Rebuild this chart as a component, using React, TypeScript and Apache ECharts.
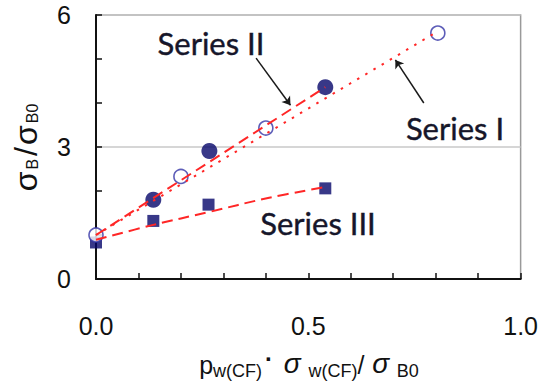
import React, { useEffect, useRef } from "react";
import * as echarts from "echarts";

// Measured points
const seriesIPoints: number[][] = [[0, 1.0], [0.2, 2.33], [0.4, 3.43], [0.805, 5.59]];
const seriesIIPoints: number[][] = [[0.135, 1.8], [0.267, 2.91], [0.54, 4.36]];
const seriesIIIPoints: number[][] = [[0, 0.83], [0.135, 1.32], [0.265, 1.69], [0.54, 2.06]];

// Trend lines as drawn in the picture
const seriesIFit: number[][] = [[0, 1.0], [0.8, 5.6]];
const seriesIIFit: number[][] = [[0, 1.0], [0.54, 4.36]];
const seriesIIICurve: number[][] = [[0, 0.89], [0.135, 1.23], [0.265, 1.52], [0.405, 1.84], [0.54, 2.09]];

// Annotation arrows (data coordinates: from -> to)
const arrowSeriesII: number[][] = [[0.377, 5.02], [0.458, 3.95]];
const arrowSeriesI: number[][] = [[0.772, 4.0], [0.705, 4.98]];

const xLabelValues = [0, 0.5, 1.0];
const xTickLabels = ["0.0", "0.5", "1.0"];
const yLabelValues = [0, 3, 6];
const yTickLabels = ["0", "3", "6"];

const annotationTexts = ["Series II", "Series I", "Series III"];

const RED = "#ff2626";
const NAVY = "#06066a";

function pick(values: number[], labels: string[], v: number): string {
  for (let i = 0; i < values.length; i++) {
    if (Math.abs(values[i] - v) < 1e-6) return labels[i];
  }
  return "";
}

export default function App() {
  const ref = useRef<HTMLDivElement>(null);
  useEffect(() => {
    if (!ref.current) return;
    const chart = echarts.init(ref.current, undefined, { renderer: "svg" });
    const tickFont = "Liberation Sans, Arial, sans-serif";
    const noteFont = "Lato, sans-serif";
    chart.setOption({
      animation: false,
      backgroundColor: "#ffffff",
      grid: {
        left: 96,
        right: 15,
        top: 15,
        bottom: 107,
        show: true,
        borderColor: "#9a9a9a",
        borderWidth: 1.5,
        backgroundColor: "transparent",
      },
      xAxis: {
        type: "value",
        min: 0,
        max: 1,
        interval: 0.1,
        axisLine: { show: true, lineStyle: { color: "#111", width: 2 } },
        axisTick: { show: true, inside: true, length: 6, lineStyle: { color: "#111", width: 1.5 } },
        splitLine: { show: false },
        axisLabel: {
          margin: 34,
          fontSize: 25,
          color: "#111",
          fontFamily: tickFont,
          formatter: (v: number) => pick(xLabelValues, xTickLabels, v),
        },
      },
      yAxis: [
        {
          type: "value",
          min: 0,
          max: 6,
          interval: 1,
          axisLine: { show: true, lineStyle: { color: "#111", width: 2 } },
          axisTick: { show: true, inside: true, length: 6, lineStyle: { color: "#111", width: 1.5 } },
          splitLine: { show: false },
          axisLabel: {
            margin: 25,
            fontSize: 25,
            color: "#111",
            fontFamily: tickFont,
            padding: [8, 0, 0, 0],
            formatter: (v: number) => pick(yLabelValues, yTickLabels, v),
          },
        },
        {
          type: "value",
          min: 0,
          max: 6,
          interval: 3,
          position: "left",
          axisLine: { show: false },
          axisTick: { show: false },
          axisLabel: { show: false },
          splitLine: { show: true, lineStyle: { color: "#c8c8c8", width: 1.5 } },
        },
      ],
      series: [
        {
          type: "scatter",
          name: "Series III",
          data: seriesIIIPoints,
          symbol: "rect",
          symbolSize: 12,
          itemStyle: { color: NAVY },
          z: 2,
        },
        {
          type: "scatter",
          name: "Series II",
          data: seriesIIPoints,
          symbol: "circle",
          symbolSize: 16,
          itemStyle: { color: NAVY },
          z: 2,
        },
        {
          type: "scatter",
          name: "Series I",
          data: seriesIPoints,
          symbol: "circle",
          symbolSize: 14,
          itemStyle: { color: "#ffffff", borderColor: "#3434a6", borderWidth: 1.6 },
          z: 2,
        },
        {
          type: "line",
          data: seriesIFit,
          symbol: "none",
          lineStyle: { color: RED, width: 2, type: [2.5, 7] },
          z: 3,
        },
        {
          type: "line",
          data: seriesIIFit,
          symbol: "none",
          lineStyle: { color: RED, width: 2, type: [11, 6] },
          z: 3,
        },
        {
          type: "line",
          data: seriesIIICurve,
          symbol: "none",
          smooth: 0.4,
          lineStyle: { color: RED, width: 2, type: [11, 6] },
          z: 3,
        },
        {
          type: "lines",
          coordinateSystem: "cartesian2d",
          symbol: ["none", "arrow"],
          symbolSize: 8,
          lineStyle: { color: "#1a1a1a", width: 1.5, opacity: 1 },
          data: [{ coords: arrowSeriesII }, { coords: arrowSeriesI }],
          z: 4,
        },
      ],
      graphic: [
        {
          type: "text",
          x: 211,
          y: 43,
          style: {
            text: annotationTexts[0],
            font: `31px ${noteFont}`,
            fill: "#16162a",
            stroke: "#16162a",
            lineWidth: 0.4,
            align: "center",
            verticalAlign: "middle",
          },
        },
        {
          type: "text",
          x: 455,
          y: 128,
          style: {
            text: annotationTexts[1],
            font: `31px ${noteFont}`,
            fill: "#16162a",
            stroke: "#16162a",
            lineWidth: 0.4,
            align: "center",
            verticalAlign: "middle",
          },
        },
        {
          type: "text",
          x: 318,
          y: 223,
          style: {
            text: annotationTexts[2],
            font: `31px ${noteFont}`,
            fill: "#16162a",
            stroke: "#16162a",
            lineWidth: 0.4,
            align: "center",
            verticalAlign: "middle",
          },
        },
        {
          type: "text",
          x: 27,
          y: 147,
          rotation: Math.PI / 2,
          style: {
            text: "{s|σ}{b|B}{s|/}{s|σ}{b|B0}",
            align: "center",
            verticalAlign: "middle",
            fill: "#111",
            rich: {
              s: { fontSize: 32, fontFamily: tickFont, fill: "#111", verticalAlign: "bottom", padding: [0, 1, 3, 1] },
              b: { fontSize: 16, fontFamily: tickFont, fill: "#111", verticalAlign: "bottom", padding: [0, 2, 4, 1] },
            },
          },
        },
        {
          type: "text",
          x: 309,
          y: 363,
          style: {
            text: "{p|p}{sub|w(CF)}{dot|·}{sig| σ }{sub|w(CF)}{p|/}{sig| σ }{sub|B0}",
            align: "center",
            verticalAlign: "middle",
            fill: "#111",
            rich: {
              p: { fontSize: 25, fontFamily: tickFont, fill: "#111", verticalAlign: "bottom", padding: [0, 0, 2, 0] },
              sig: { fontSize: 28, fontFamily: tickFont, fontStyle: "italic", fill: "#111", verticalAlign: "bottom", padding: [0, 0, 2, 0] },
              sub: { fontSize: 18, fontFamily: tickFont, fill: "#111", verticalAlign: "bottom" },
              dot: { fontSize: 24, fontFamily: tickFont, fontWeight: "bold", fill: "#111", verticalAlign: "bottom", padding: [0, 3, 9, 3] },
            },
          },
        },
      ],
    });
    return () => chart.dispose();
  }, []);
  return (
    <div
      ref={ref}
      style={{ position: "absolute", left: 0, top: 0, width: 541, height: 386 }}
    />
  );
}
